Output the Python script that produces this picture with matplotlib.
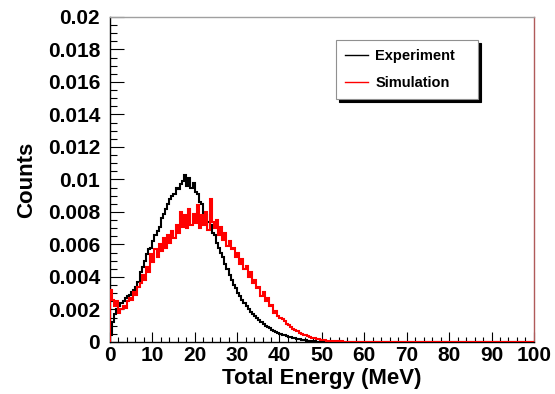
import numpy as np
import matplotlib
matplotlib.use("Agg")
import matplotlib.pyplot as plt
from matplotlib.ticker import MultipleLocator, FuncFormatter

# Histogram contents in units of 1e-4, 0.5 MeV bins from 0 to 60 MeV (zero beyond)
experiment = [
    4, 12, 17, 20, 22, 24, 25, 27, 28, 29,
    31, 32, 34, 37, 43, 46, 50, 54, 57, 58,
    62, 66, 68, 71, 76, 79, 82, 85, 88, 90,
    91, 95, 94, 97, 99, 103, 96, 101, 95, 98,
    92, 91, 86, 85, 79, 78, 74, 72, 67, 66,
    61, 58, 55, 52, 48, 45, 41, 38, 35, 33,
    30, 28, 26, 24, 22, 20, 18.5, 17, 16, 14.5,
    13.5, 12.5, 11, 10, 9.5, 8.5, 7.5, 7, 6, 5.5,
    5, 4.5, 4, 3.5, 3, 2.8, 2.5, 2.2, 2, 1.7,
    1.4, 1.2, 1, 0.8, 0.6, 0.5, 0.4, 0.3, 0.2, 0.2,
    0.1, 0.1, 0.1, 0.05, 0.05, 0, 0, 0, 0, 0,
    0, 0, 0, 0, 0, 0, 0, 0, 0, 0,
]
simulation = [
    32, 26, 22, 25, 18, 20, 22, 21, 25, 27,
    26, 31, 29, 34, 36, 41, 38, 46, 43, 54,
    49, 57, 52, 60, 56, 64, 58, 66, 61, 68,
    64, 72, 67, 80, 71, 78, 70, 82, 72, 79,
    73, 84, 70, 78, 72, 80, 69, 88, 74, 70,
    75, 66, 71, 63, 67, 59, 62, 57, 58, 52,
    55, 48, 51, 45, 47, 40, 43, 36, 38, 33,
    34, 28, 31, 25, 27, 22, 23, 18, 19, 16,
    15, 14, 13, 11, 10.5, 9, 8, 7.5, 6.5, 5.5,
    5, 4.5, 4, 3.5, 3, 2.5, 2.2, 2, 1.6, 1.4,
    1.2, 1, 0.9, 0.8, 0.7, 0.6, 0.5, 0.5, 0.4, 0.4,
    0.3, 0.3, 0.2, 0.3, 0.2, 0.2, 0.1, 0.2, 0.1, 0.1,
]
x_range = (0, 100)
n_bins = 200
scale = 1e-4

exp_vals = np.zeros(n_bins)
exp_vals[:len(experiment)] = np.array(experiment) * scale
sim_vals = np.zeros(n_bins)
sim_vals[:len(simulation)] = np.array(simulation) * scale
edges = np.linspace(x_range[0], x_range[1], n_bins + 1)

plt.rcParams['font.family'] = ['Liberation Sans', 'DejaVu Sans']
plt.rcParams['font.weight'] = 'bold'

fig = plt.figure(figsize=(5.55, 3.94), dpi=100)
ax = fig.add_axes([0.198, 0.132, 0.764, 0.825])

h_exp = ax.stairs(exp_vals, edges, color='black', lw=1.5, label='Experiment', zorder=3)
h_sim = ax.stairs(sim_vals, edges, color='#ff0000', lw=1.5, label='Simulation', zorder=3.1)

ax.set_xlim(0, 100)
ax.set_ylim(0, 0.02)

ax.xaxis.set_major_locator(MultipleLocator(10))
ax.xaxis.set_minor_locator(MultipleLocator(2))
ax.yaxis.set_major_locator(MultipleLocator(0.002))
ax.yaxis.set_minor_locator(MultipleLocator(0.0005))
ax.yaxis.set_major_formatter(FuncFormatter(lambda v, p: f"{round(v, 4):g}"))

ax.tick_params(axis='both', which='both', direction='in', top=False, right=False,
               labelsize=15)
ax.tick_params(axis='x', which='major', length=7, width=0.8, pad=3)
ax.tick_params(axis='x', which='minor', length=3.5, width=0.8)
ax.tick_params(axis='y', which='major', length=10, width=0.8, pad=7)
ax.tick_params(axis='y', which='minor', length=5, width=0.8)
for lbl in ax.get_xticklabels() + ax.get_yticklabels():
    lbl.set_fontweight('bold')

ax.spines['top'].set_color('#a0a0a0')
ax.spines['right'].set_color('#b05a5a')
ax.spines['left'].set_color('black')
ax.spines['bottom'].set_color('black')
for s in ax.spines.values():
    s.set_linewidth(1.0)

ax.set_xlabel('Total Energy (MeV)', fontsize=16, fontweight='bold', labelpad=2)
ax.set_ylabel('Counts', fontsize=16, fontweight='bold', labelpad=8)

leg = ax.legend(handles=[h_exp, h_sim], loc='lower left',
                bbox_to_anchor=(0.533, 0.748, 0.335, 0.187), mode='expand',
                borderaxespad=0, fancybox=False, shadow={'color': 'black', 'alpha': 1},
                edgecolor='#909090', framealpha=1, prop={'size': 10.5, 'weight': 'bold'},
                handlelength=1.6, handletextpad=0.5, labelspacing=0.9,
                borderpad=0.6)
leg.get_frame().set_linewidth(0.8)
leg.set_zorder(5)
for line in leg.get_lines():
    line.set_linewidth(1.0)

fig.savefig('out.png', dpi=100)
